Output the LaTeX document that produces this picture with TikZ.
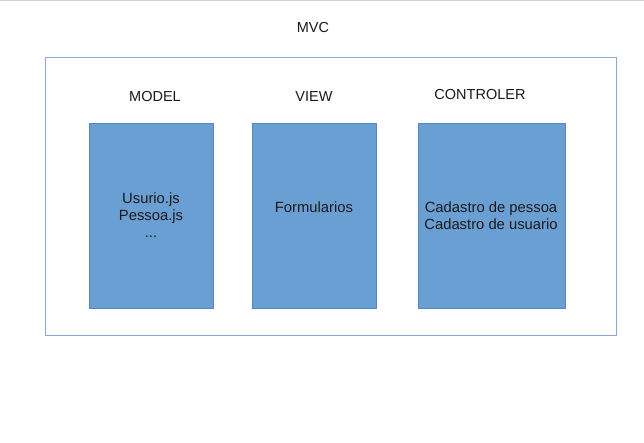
\documentclass[tikz,border=0pt]{standalone}
\usepackage{fontspec}
\setmainfont{Liberation Sans}
\definecolor{boxfill}{HTML}{6A9FD3}
\definecolor{boxline}{HTML}{5A86BE}
\definecolor{frameline}{HTML}{8AA8D8}
\definecolor{txt}{HTML}{1A1A1A}
\begin{document}
\begin{tikzpicture}[x=1pt,y=-1pt,
  lab/.style={font=\fontsize{14.5}{17}\selectfont, text=txt, inner sep=0pt},
  mvcbox/.style={draw=boxline, fill=boxfill, line width=0.8pt, inner sep=0pt},
  boxtext/.style={font=\fontsize{14.8}{17}\selectfont, text=txt, align=center, inner sep=0pt}]
\useasboundingbox (0,0) rectangle (644,443);
\fill[white] (0,0) rectangle (644,443);
\draw[black!18, line width=1pt] (0,0.5) -- (644,0.5);
\node[draw=frameline, line width=1pt, minimum width=571pt, minimum height=277pt, inner sep=0pt] (frame) at (330.5,196.5) {};
\node[lab] (mvc) at (313,28) {MVC};
\node[lab] (lmodel) at (155,97) {MODEL};
\node[lab] (lview) at (314,97) {VIEW};
\node[lab] (lctrl) at (480,95) {CONTROLER};
\node[mvcbox, minimum width=124pt, minimum height=185pt] (model) at (151,215.5) {};
\node[mvcbox, minimum width=124pt, minimum height=185pt] (view) at (314,215.5) {};
\node[mvcbox, minimum width=147pt, minimum height=185pt] (ctrl) at (491.5,215.5) {};
\node[boxtext] (tmodel) at (151,215) {Usurio.js\\Pessoa.js\\...};
\node[boxtext] (tview) at (314,207) {Formularios};
\node[boxtext] (tctrl) at (491,215.5) {Cadastro de pessoa\\Cadastro de usuario};
\end{tikzpicture}
\end{document}
